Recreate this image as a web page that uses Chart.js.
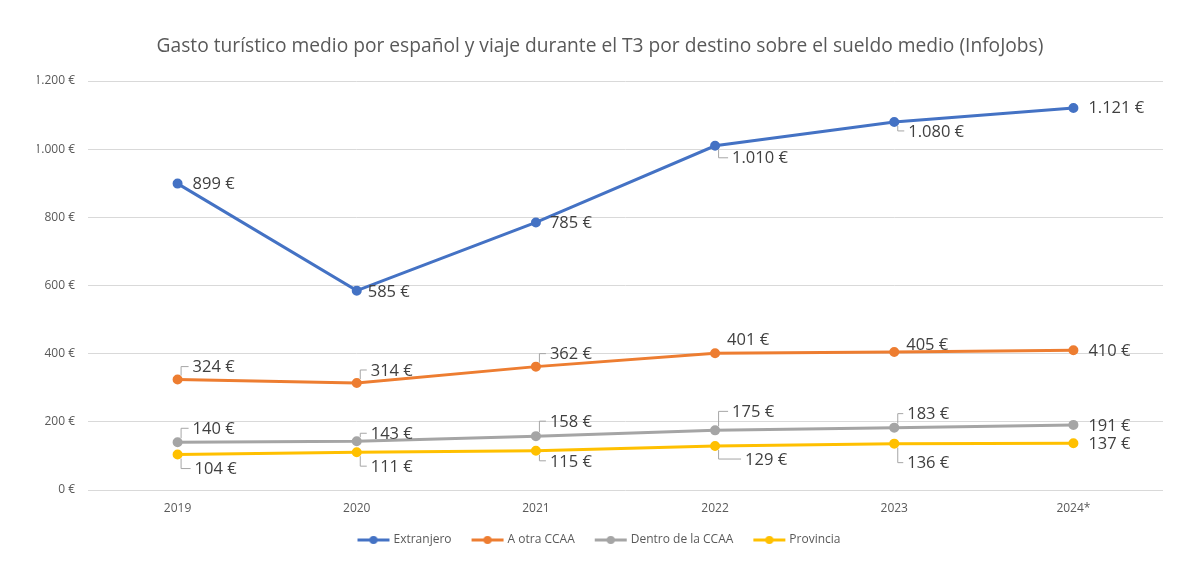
<!DOCTYPE html>
<html>
<head>
<meta charset="utf-8">
<script src="https://cdn.jsdelivr.net/npm/chart.js@4.4.1/dist/chart.umd.min.js"></script>
<style>
html,body{margin:0;padding:0;background:#fff;}
#wrap{width:1200px;height:578px;}
</style>
</head>
<body>
<div id="wrap"><canvas id="c" width="1200" height="578"></canvas></div>
<script>
const categories = ['2019', '2020', '2021', '2022', '2023', '2024*'];
const extranjero = [899, 585, 785, 1010, 1080, 1121];
const otraCCAA = [324, 314, 362, 401, 405, 410];
const dentroCCAA = [140, 143, 158, 175, 183, 191];
const provincia = [104, 111, 115, 129, 136, 137];
const seriesNames = ['Extranjero', 'A otra CCAA', 'Dentro de la CCAA', 'Provincia'];
const yTicks = [0, 200, 400, 600, 800, 1000, 1200];

const colors = ['#4472C4', '#ED7D31', '#A5A5A5', '#FFC000'];

// label placement (offset from point in px; leader = draw callout line)
const labelPlacement = [
  [[15,0,0],[11,1,0],[14,0,0],[17,12,1],[14,9,1],[15,-1,0]],
  [[15,-13,1],[14,-13,1],[14,-13,1],[12,-14,0],[12,-8,0],[15,0,0]],
  [[15,-14,1],[14,-8,1],[14,-15,1],[17,-19,1],[13,-14,1],[15,0,0]],
  [[17,14,1],[14,14,1],[14,10,1],[30,13,1],[13,19,1],[15,0,0]]
];

function fmt(v){
  return v.toLocaleString('de-DE') + ' €';
}

function legendIcon(color){
  const c = document.createElement('canvas');
  c.width = 34; c.height = 10;
  const x = c.getContext('2d');
  x.strokeStyle = color; x.lineWidth = 3;
  x.beginPath(); x.moveTo(1,5); x.lineTo(33,5); x.stroke();
  x.fillStyle = color;
  x.beginPath(); x.arc(17,5,4,0,Math.PI*2); x.fill();
  return c;
}
const icons = colors.map(legendIcon);

const labelPlugin = {
  id: 'callouts',
  afterDatasetsDraw(chart){
    const ctx = chart.ctx;
    ctx.save();
    ctx.font = '16.5px "Open Sans", sans-serif';
    ctx.fillStyle = '#404040';
    ctx.textBaseline = 'middle';
    ctx.textAlign = 'left';
    chart.data.datasets.forEach((ds, i) => {
      const meta = chart.getDatasetMeta(i);
      meta.data.forEach((pt, j) => {
        const [dx, dy, leader] = labelPlacement[i][j];
        const tx = pt.x + dx, ty = pt.y + dy;
        if (leader) {
          ctx.strokeStyle = '#A6A6A6';
          ctx.lineWidth = 1;
          ctx.beginPath();
          const sx = pt.x + 3.5;
          const sy = pt.y + (dy < 0 ? -4 : 4);
          ctx.moveTo(sx, sy);
          ctx.lineTo(sx, ty);
          ctx.lineTo(tx - 4, ty);
          ctx.stroke();
        }
        ctx.fillText(fmt(ds.data[j]), tx, ty + 1);
      });
    });
    ctx.restore();
  }
};

const dataArrays = [extranjero, otraCCAA, dentroCCAA, provincia];

new Chart(document.getElementById('c'), {
  type: 'line',
  data: {
    labels: categories,
    datasets: dataArrays.map((d, i) => ({
      label: seriesNames[i],
      data: d,
      borderColor: colors[i],
      backgroundColor: colors[i],
      borderWidth: 3,
      pointRadius: 3.5,
      pointHoverRadius: 3.5,
      pointBackgroundColor: colors[i],
      pointBorderColor: colors[i],
      tension: 0
    }))
  },
  options: {
    responsive: false,
    animation: false,
    events: [],
    layout: { padding: { left: 37, right: 37, top: 0, bottom: 22 } },
    scales: {
      x: {
        offset: true,
        grid: { display: false, drawTicks: false },
        border: { display: false },
        ticks: { color: '#595959', font: { family: '"Open Sans", sans-serif', size: 12 }, padding: 11 },
        afterFit(s){ s.height = 22; }
      },
      y: {
        min: 0, max: 1200,
        afterBuildTicks(s){ s.ticks = yTicks.map(v => ({ value: v })); },
        grid: { color: '#D9D9D9', lineWidth: 1, drawTicks: false },
        border: { display: false },
        ticks: {
          color: '#595959',
          font: { family: '"Open Sans", sans-serif', size: 12 },
          padding: 13,
          callback: v => fmt(v)
        },
        afterFit(s){ s.width = 51; }
      }
    },
    plugins: {
      title: {
        display: true,
        text: 'Gasto turístico medio por español y viaje durante el T3 por destino sobre el sueldo medio (InfoJobs)',
        color: '#595959',
        font: { family: '"Open Sans", sans-serif', size: 19.2, weight: 'normal' },
        padding: { top: 35, bottom: 23 }
      },
      legend: {
        position: 'bottom',
        labels: {
          color: '#595959',
          font: { family: '"Open Sans", sans-serif', size: 12 },
          usePointStyle: true,
          pointStyleWidth: 28,
          boxHeight: 10,
          padding: 22,
          generateLabels(chart){
            const items = Chart.defaults.plugins.legend.labels.generateLabels(chart);
            items.forEach((it, k) => { it.pointStyle = icons[k]; });
            return items;
          }
        }
      },
      tooltip: { enabled: false }
    }
  },
  plugins: [labelPlugin]
});
</script>
</body>
</html>
